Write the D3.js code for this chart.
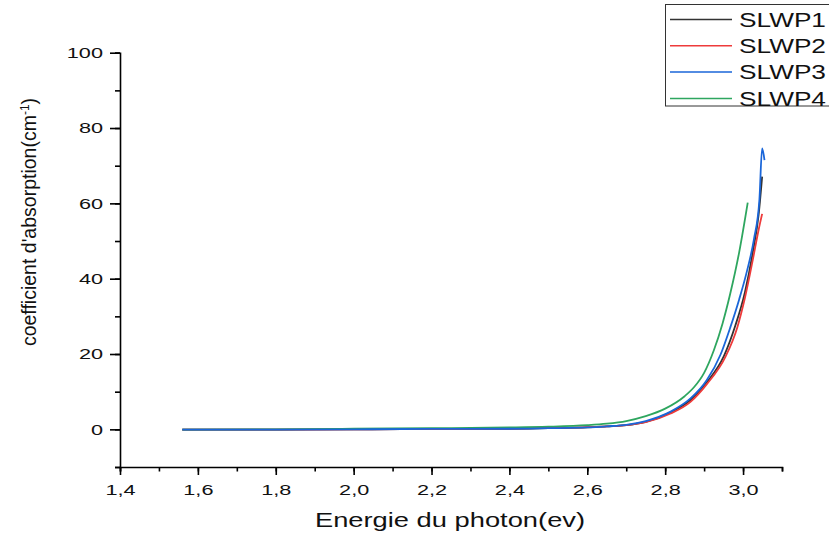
<!DOCTYPE html>
<html><head><meta charset="utf-8">
<script src="https://cdn.jsdelivr.net/npm/d3@7"></script>
<style>body{margin:0;background:#fff}svg{display:block;font-family:"Liberation Sans",Arial,sans-serif}</style>
</head><body><svg id="c" width="829" height="537"></svg>
<script>
const seriesNames = ["SLWP1","SLWP2","SLWP3","SLWP4"];
const seriesColors = ["#333333","#ee3b3b","#1a66d9","#2ea65f"];
const xTickValues = [1.4,1.6,1.8,2.0,2.2,2.4,2.6,2.8,3.0];
const yTickValues = [0,20,40,60,80,100];

const energy1 = [1.56,1.8,2.0,2.2,2.4,2.5,2.6,2.65,2.7,2.75,2.814,2.865,2.907,2.951,2.98,3.005,3.025,3.04,3.049];
const alpha1  = [-0.1,-0.05,0.0,0.1,0.15,0.3,0.5,0.8,1.1,2.0,4.5,7.8,12.5,19.5,27.5,36.5,47.0,57.0,67.1];

const energy2 = [1.56,1.8,2.0,2.2,2.4,2.5,2.6,2.65,2.7,2.75,2.814,2.865,2.907,2.955,2.985,3.005,3.025,3.040,3.049];
const alpha2  = [-0.1,-0.05,0.0,0.1,0.2,0.4,0.6,0.8,1.1,1.9,4.2,7.3,12.0,19.3,27.0,35.0,45.0,53.0,57.2];

const energy3 = [1.56,1.8,2.0,2.2,2.4,2.5,2.6,2.65,2.7,2.75,2.814,2.865,2.907,2.942,2.967,2.99,3.01,3.028,3.042,3.049,3.055];
const alpha3  = [-0.1,-0.05,0.0,0.1,0.15,0.3,0.5,0.8,1.2,2.2,4.7,8.2,13.1,19.8,27.0,34.5,42.0,50.5,61.0,74.6,71.5];

const energy4 = [1.56,1.8,2.0,2.2,2.4,2.5,2.6,2.65,2.7,2.75,2.8,2.85,2.875,2.9,2.925,2.947,2.967,2.99,3.012];
const alpha4  = [-0.1,0.0,0.15,0.3,0.5,0.7,1.1,1.5,2.2,3.5,5.5,8.8,11.3,15.0,21.0,28.0,36.0,47.0,60.2];

const energies = [energy1,energy2,energy3,energy4];
const alphas = [alpha1,alpha2,alpha3,alpha4];

const SX = 1.4; // horizontal stretch of the reference typography
const svg = d3.select("#c");
const x = d3.scaleLinear().domain([1.4,3.1]).range([120,782]);
const y = d3.scaleLinear().domain([-10,100]).range([467,52.7]);
const fmt = d => d3.format(".1f")(d).replace(".", ",");
const FONT = "Liberation Sans, Arial, sans-serif";

// x axis
const gx = svg.append("g").attr("transform","translate(0,467)");
gx.call(d3.axisBottom(x).tickValues(d3.range(1.4,3.1001,0.1)).tickSize(4.5).tickFormat(""));
const gx2 = gx.append("g").call(d3.axisBottom(x).tickValues(xTickValues).tickSize(8).tickPadding(9).tickFormat(fmt));
gx2.select("path.domain").remove();
gx.selectAll("path.domain").attr("stroke","#000").attr("stroke-width",1.6);
gx.selectAll(".tick line").attr("stroke","#000").attr("stroke-width",1.6);
gx.selectAll(".tick text").attr("font-size",15.5).attr("fill","#111").attr("font-family",FONT)
  .attr("transform",`scale(${SX},1)`);

// y axis
const gy = svg.append("g").attr("transform","translate(120,0)");
gy.call(d3.axisLeft(y).tickValues(d3.range(-10,100.001,10)).tickSize(5).tickFormat(""));
const gy2 = gy.append("g").call(d3.axisLeft(y).tickValues(yTickValues).tickSize(10).tickPadding(7).tickFormat(d3.format("d")));
gy2.select("path.domain").remove();
gy.selectAll("path.domain").attr("stroke","#000").attr("stroke-width",1.6);
gy.selectAll(".tick line").attr("stroke","#000").attr("stroke-width",1.6);
gy.selectAll(".tick text").attr("font-size",15.5).attr("fill","#111").attr("font-family",FONT)
  .attr("x",-17/SX).attr("transform",`scale(${SX},1)`);

// curves
const line = d3.line().curve(d3.curveMonotoneX);
const plot = svg.append("g");
[0,1,3,2].forEach(i => {
  const pts = energies[i].map((e,k)=>[x(e), y(alphas[i][k])]);
  plot.append("path").attr("d", line(pts)).attr("fill","none")
    .attr("stroke", seriesColors[i]).attr("stroke-width",1.8).attr("stroke-linejoin","round");
});

// axis titles
svg.append("text").attr("transform",`translate(450,527) scale(${SX},1)`).attr("text-anchor","middle")
  .attr("font-size",19.5).attr("fill","#111").text("Energie du photon(ev)");
const yt = svg.append("text").attr("transform",`translate(36,222) rotate(-90)`)
  .attr("text-anchor","middle").attr("font-size",19.5).attr("fill","#111");
yt.append("tspan").text("coefficient d'absorption(cm");
yt.append("tspan").attr("font-size",12).attr("dy",-7).text("-1");
yt.append("tspan").attr("dy",7).text(")");

// legend
const lg = svg.append("g");
lg.append("rect").attr("x",665.5).attr("y",4.5).attr("width",180).attr("height",101.5)
  .attr("fill","#fff").attr("stroke","#333").attr("stroke-width",1);
seriesNames.forEach((n,i)=>{
  const yy = 19.5 + i*26.3;
  lg.append("line").attr("x1",670).attr("x2",732).attr("y1",yy).attr("y2",yy)
    .attr("stroke",seriesColors[i]).attr("stroke-width",1.5);
  lg.append("text").attr("transform",`translate(739,${yy}) scale(1.28,1)`).attr("dy","0.36em")
    .attr("font-size",20.5).attr("fill","#111").text(n);
});
</script></body></html>
